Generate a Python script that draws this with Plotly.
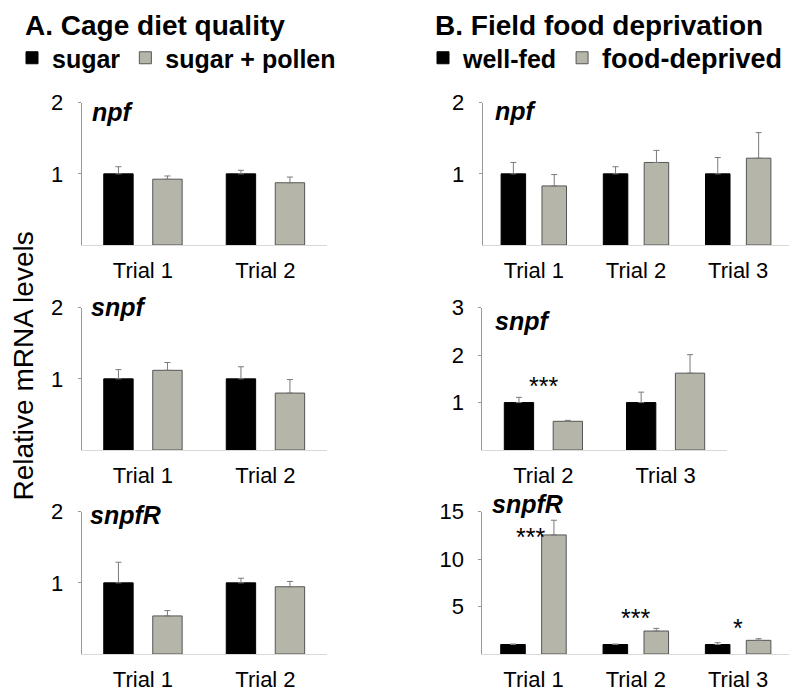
import plotly.graph_objects as go

W, H = 796, 696
FONT = "Liberation Sans, Arial, sans-serif"
BLACK = "#000000"
GRAY = "#b5b6a9"

# ---------------- data ----------------
A_trials = ["Trial 1", "Trial 2"]
A_npf_sugar = [1.0, 1.0]
A_npf_sugar_err = [0.10, 0.05]
A_npf_pollen = [0.925, 0.875]
A_npf_pollen_err = [0.045, 0.08]
A_snpf_sugar = [1.0, 1.0]
A_snpf_sugar_err = [0.13, 0.17]
A_snpf_pollen = [1.12, 0.80]
A_snpf_pollen_err = [0.11, 0.19]
A_snpfR_sugar = [1.0, 1.0]
A_snpfR_sugar_err = [0.29, 0.065]
A_snpfR_pollen = [0.535, 0.945]
A_snpfR_pollen_err = [0.075, 0.075]

B_trials = ["Trial 1", "Trial 2", "Trial 3"]
B_npf_fed = [1.0, 1.0, 1.0]
B_npf_fed_err = [0.16, 0.10, 0.23]
B_npf_dep = [0.83, 1.16, 1.22]
B_npf_dep_err = [0.16, 0.17, 0.36]
B_snpf_trials = ["Trial 2", "Trial 3"]
B_snpf_fed = [1.0, 1.0]
B_snpf_fed_err = [0.11, 0.22]
B_snpf_dep = [0.605, 1.62]
B_snpf_dep_err = [0.02, 0.39]
B_snpfR_fed = [1.0, 1.0, 1.0]
B_snpfR_fed_err = [0.05, 0.05, 0.19]
B_snpfR_dep = [12.55, 2.42, 1.44]
B_snpfR_dep_err = [1.55, 0.28, 0.17]

# significance marks: (panel index, category, y position, text, x shift)
stars = [(5, "Trial 2", 1.35, "***", 0),
         (6, "Trial 1", 12.35, "***", -3),
         (6, "Trial 2", 3.8, "***", 0),
         (6, "Trial 3", 2.69, "*", 0)]

# ---------------- layout geometry (pixels) ----------------
def xd(a, b):
    return [a / W, b / W]

def yd(top, bottom):
    return [1 - bottom / H, 1 - top / H]

panels = {
    1: dict(x=xd(81.7, 326.7), y=yd(102.7, 245), rng=[0, 2], tv=[1, 2]),
    2: dict(x=xd(81.7, 326.7), y=yd(307.7, 450), rng=[0, 2], tv=[1, 2]),
    3: dict(x=xd(81.7, 326.7), y=yd(511.7, 654), rng=[0, 2], tv=[1, 2]),
    4: dict(x=xd(482.7, 789.3), y=yd(102.7, 245), rng=[0, 2], tv=[1, 2]),
    5: dict(x=xd(482.3, 726.7), y=yd(307.7, 450), rng=[0, 3], tv=[1, 2, 3]),
    6: dict(x=xd(482.3, 789.3), y=yd(511.7, 654), rng=[0, 15], tv=[5, 10, 15]),
}

fig = go.Figure()

def add_pair(i, cats, v1, e1, v2, e2, n1, n2, legend, show):
    xa = "x" if i == 1 else f"x{i}"
    ya = "y" if i == 1 else f"y{i}"
    fig.add_trace(go.Bar(
        x=cats, y=v1, name=n1, xaxis=xa, yaxis=ya,
        marker=dict(color=BLACK, line=dict(color=BLACK, width=1)),
        error_y=dict(type="data", array=e1, arrayminus=[0] * len(e1), symmetric=False,
                     color="#7a7a7a", thickness=1, width=3),
        showlegend=show, legend=legend))
    fig.add_trace(go.Bar(
        x=cats, y=v2, name=n2, xaxis=xa, yaxis=ya,
        marker=dict(color=GRAY, line=dict(color="#555555", width=1)),
        error_y=dict(type="data", array=e2, arrayminus=[0] * len(e2), symmetric=False,
                     color="#7a7a7a", thickness=1, width=3),
        showlegend=show, legend=legend))

add_pair(1, A_trials, A_npf_sugar, A_npf_sugar_err, A_npf_pollen, A_npf_pollen_err,
         "sugar", "sugar + pollen", "legend", True)
add_pair(2, A_trials, A_snpf_sugar, A_snpf_sugar_err, A_snpf_pollen, A_snpf_pollen_err,
         "sugar", "sugar + pollen", "legend", False)
add_pair(3, A_trials, A_snpfR_sugar, A_snpfR_sugar_err, A_snpfR_pollen, A_snpfR_pollen_err,
         "sugar", "sugar + pollen", "legend", False)
add_pair(4, B_trials, B_npf_fed, B_npf_fed_err, B_npf_dep, B_npf_dep_err,
         "well-fed", "<span style='font-size:27px'>food-deprived</span>", "legend2", True)
add_pair(5, B_snpf_trials, B_snpf_fed, B_snpf_fed_err, B_snpf_dep, B_snpf_dep_err,
         "well-fed", "food-deprived", "legend2", False)
add_pair(6, B_trials, B_snpfR_fed, B_snpfR_fed_err, B_snpfR_dep, B_snpfR_dep_err,
         "well-fed", "food-deprived", "legend2", False)

layout = dict(
    width=W, height=H, margin=dict(l=0, r=0, t=0, b=0, autoexpand=False),
    paper_bgcolor="white", plot_bgcolor="white",
    barmode="group", bargap=0.2, bargroupgap=0.4,
    font=dict(family=FONT, color="black", size=22),
    legend=dict(x=12 / W, y=1 - 58 / H, xanchor="left", yanchor="middle",
                orientation="h", bgcolor="rgba(0,0,0,0)", borderwidth=0,
                font=dict(family=FONT, size=25, weight="bold", color="black")),
    legend2=dict(x=423 / W, y=1 - 58 / H, xanchor="left", yanchor="middle",
                 orientation="h", bgcolor="rgba(0,0,0,0)", borderwidth=0,
                 font=dict(family=FONT, size=25, weight="bold", color="black")),
)

for i, p in panels.items():
    xk = "xaxis" if i == 1 else f"xaxis{i}"
    yk = "yaxis" if i == 1 else f"yaxis{i}"
    ya = "y" if i == 1 else f"y{i}"
    xa = "x" if i == 1 else f"x{i}"
    layout[xk] = dict(domain=p["x"], anchor=ya, type="category", automargin=False,
                      showline=True, linecolor="#d9d9d9", linewidth=1,
                      showgrid=False, ticks="", zeroline=False,
                      tickfont=dict(family=FONT, size=22, color="black"),
                      ticklabelstandoff=6, fixedrange=True)
    layout[yk] = dict(domain=p["y"], anchor=xa, range=p["rng"], automargin=False,
                      tickvals=p["tv"], ticktext=[str(v) for v in p["tv"]],
                      showline=True, linecolor="#999999", linewidth=1,
                      ticks="outside", ticklen=3, tickcolor="#999999",
                      showgrid=False, zeroline=False,
                      tickfont=dict(family=FONT, size=22, color="black"),
                      ticklabelstandoff=10, fixedrange=True)

fig.update_layout(**layout)

ann = []
# panel titles
ann.append(dict(text="<b>A. Cage diet quality</b>", x=23 / W, y=1 - 25 / H,
                xref="paper", yref="paper", xanchor="left", yanchor="middle",
                showarrow=False, font=dict(family=FONT, size=28, color="black")))
ann.append(dict(text="<b>B. Field food deprivation</b>", x=433 / W, y=1 - 25 / H,
                xref="paper", yref="paper", xanchor="left", yanchor="middle",
                showarrow=False, font=dict(family=FONT, size=28, color="black")))
# y-axis title
ann.append(dict(text="Relative mRNA levels", x=23 / W, y=1 - 366.5 / H,
                xref="paper", yref="paper", xanchor="center", yanchor="middle",
                textangle=-90, showarrow=False,
                font=dict(family=FONT, size=28, color="black")))
# gene labels
genes = [("npf", 90, 112), ("snpf", 89, 307), ("snpfR", 88, 515),
         ("npf", 493, 111), ("snpf", 493, 321), ("snpfR", 490, 504)]
for g, gx, gy in genes:
    ann.append(dict(text=f"<b><i>{g}</i></b>", x=gx / W, y=1 - gy / H,
                    xref="paper", yref="paper", xanchor="left", yanchor="middle",
                    showarrow=False, font=dict(family=FONT, size=25, color="black")))
# significance stars
for i, cat, yv, txt, xs in stars:
    ann.append(dict(text=txt, x=cat, y=yv, xref=f"x{i}", yref=f"y{i}",
                    xanchor="center", yanchor="middle", xshift=xs,
                    showarrow=False, font=dict(family=FONT, size=25, color="black")))

fig.update_layout(annotations=ann)
fig.write_html("out.html")
